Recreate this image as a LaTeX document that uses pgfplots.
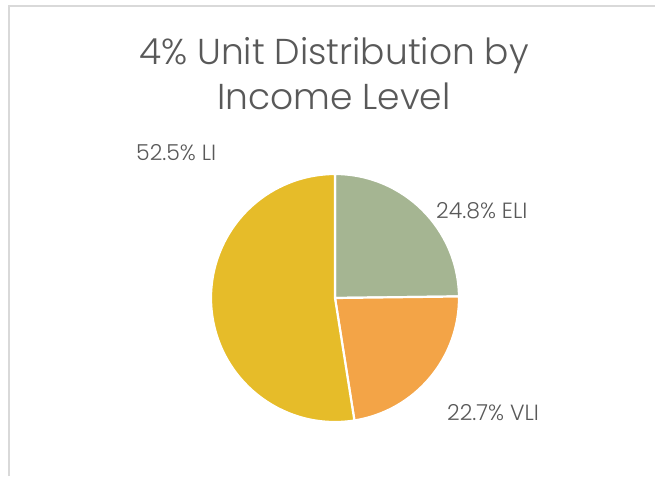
\documentclass[border=0pt]{standalone}
\usepackage{pgfplots}
\usepackage{pgfplotstable}
\pgfplotsset{compat=1.18}
\usepackage{fontspec}
\setmainfont{Poppins Light}

\definecolor{eli}{RGB}{165,181,146}
\definecolor{vli}{RGB}{243,164,71}
\definecolor{li}{RGB}{230,188,41}
\definecolor{txt}{RGB}{89,89,89}
\definecolor{frame}{RGB}{217,217,217}

% share of units by income level (percent)
\pgfplotstableread{
label value
ELI 24.8
VLI 22.7
LI 52.5
}\piedata

\pgfplotstablegetelem{0}{value}\of\piedata \let\vELI\pgfplotsretval
\pgfplotstablegetelem{1}{value}\of\piedata \let\vVLI\pgfplotsretval
\pgfplotstablegetelem{2}{value}\of\piedata \let\vLI\pgfplotsretval

% slices run clockwise from 12 o'clock
\pgfmathsetmacro\aA{90}
\pgfmathsetmacro\aB{\aA-3.6*\vELI}
\pgfmathsetmacro\aC{\aB-3.6*\vVLI}
\pgfmathsetmacro\aD{\aC-3.6*\vLI}

\begin{document}
\begin{tikzpicture}
  \begin{axis}[
      name=pie,
      scale only axis,
      width=655pt, height=476pt,
      xmin=0, xmax=655, ymin=0, ymax=476,
      y dir=reverse,
      hide axis,
      clip=false,
    ]
    \draw[frame, line width=2pt] (axis cs:9,476) -- (axis cs:9,6) -- (axis cs:655,6);

    \path[fill=eli, draw=white, line width=2.2pt, line join=round]
      (axis cs:335,298) -- ++(\aA:124pt) arc[start angle=\aA, end angle=\aB, radius=124pt] -- cycle;
    \path[fill=vli, draw=white, line width=2.2pt, line join=round]
      (axis cs:335,298) -- ++(\aB:124pt) arc[start angle=\aB, end angle=\aC, radius=124pt] -- cycle;
    \path[fill=li, draw=white, line width=2.2pt, line join=round]
      (axis cs:335,298) -- ++(\aC:124pt) arc[start angle=\aC, end angle=\aD, radius=124pt] -- cycle;

    \node[txt, anchor=base, font=\fontsize{36}{43}\selectfont, inner sep=0pt]
      at (axis cs:334,65) {4\% Unit Distribution by};
    \node[txt, anchor=base, font=\fontsize{36}{43}\selectfont, inner sep=0pt]
      at (axis cs:334,110) {Income Level};

    \node[txt, anchor=base west, font=\fontsize{22}{26}\selectfont, inner sep=0pt]
      at (axis cs:136,160) {\vLI\% LI};
    \node[txt, anchor=base west, font=\fontsize{22}{26}\selectfont, inner sep=0pt]
      at (axis cs:436,218) {\vELI\% ELI};
    \node[txt, anchor=base west, font=\fontsize{22}{26}\selectfont, inner sep=0pt]
      at (axis cs:447,420) {\vVLI\% VLI};
  \end{axis}
  \pgfresetboundingbox
  \path (pie.south west) rectangle (pie.north east);
\end{tikzpicture}
\end{document}
